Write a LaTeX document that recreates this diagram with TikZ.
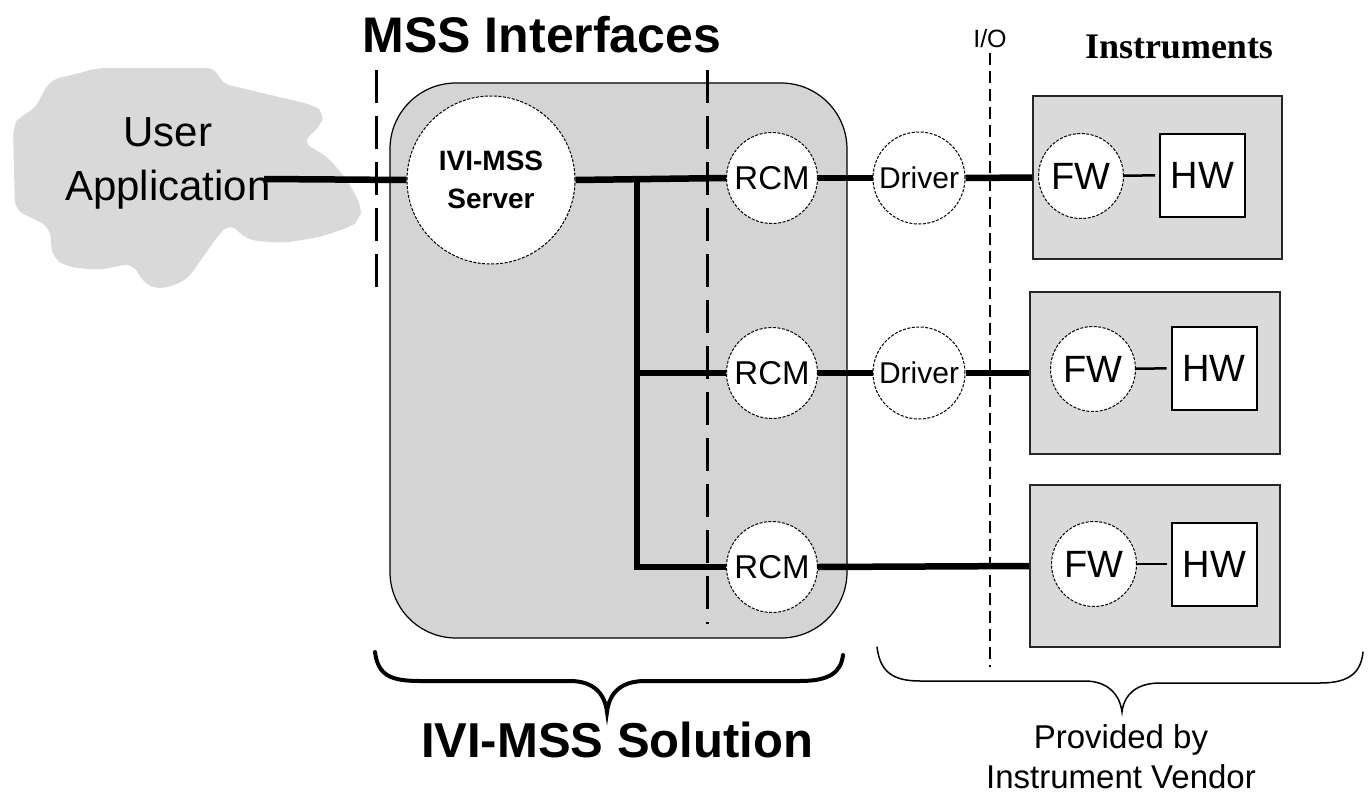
\documentclass[tikz,border=0pt]{standalone}
\usepackage{fontspec}
\setmainfont{Liberation Sans}
\newfontfamily\timesfont{Liberation Serif}
\definecolor{cloudgray}{RGB}{217,217,217}
\definecolor{rectgray}{RGB}{212,212,212}
\definecolor{instgray}{RGB}{218,218,218}
\tikzset{
  bus/.style={line width=6.5pt},
  dcirc/.style={circle, draw, dash pattern=on 3pt off 1.5pt, line width=1pt, fill=white, inner sep=0pt},
  bigdash/.style={line width=3pt, dash pattern=on 33pt off 13pt},
  iodash/.style={line width=1.3pt, dash pattern=on 12pt off 6pt},
  instbox/.style={draw=black!85, line width=2pt, fill=instgray, minimum width=250pt, minimum height=162pt, inner sep=0pt},
  hwbox/.style={draw, line width=2pt, fill=white, minimum width=85pt, minimum height=83pt, inner sep=0pt, font=\fontsize{38}{40}\selectfont},
  fwcirc/.style={dcirc, minimum size=85pt, font=\fontsize{38}{40}\selectfont},
  rcmcirc/.style={dcirc, minimum size=91pt, font=\fontsize{33}{36}\selectfont},
  drvcirc/.style={dcirc, minimum size=92pt, font=\fontsize{30}{34}\selectfont},
  link/.style={line width=2.5pt, shorten >=4pt},
  bracethick/.style={line width=4pt, line cap=round},
  bracethin/.style={line width=1.5pt, line cap=round},
}
\begin{document}
\begin{tikzpicture}[x=1pt,y=-1pt]
\useasboundingbox (0,0) rectangle (1369,793);
% cloud
\fill[cloudgray, rounded corners=10pt]
  (50,80) -- (80,73) -- (97,68) -- (217,68) -- (220,83) -- (313,105) -- (325,113)
  -- (320,127) -- (302,142) -- (328,157) -- (347,180) -- (362,207) -- (360,220)
  -- (350,227) -- (320,237) -- (283,243) -- (247,240) -- (230,223) -- (217,237)
  -- (187,280) -- (160,290) -- (143,283) -- (133,263) -- (100,270) -- (67,267)
  -- (52,257) -- (50,227) -- (40,222) -- (15,210) -- (13,127) -- (20,115)
  -- (33,112) -- cycle;
\node[align=center, font=\fontsize{42}{54}\selectfont] (user) at (168,163) {User\\Application};
% solution box
\draw[fill=rectgray, line width=1.2pt, rounded corners=66pt] (390,83) rectangle (847,638);
% dashed separators
\draw[bigdash] (376,70) -- (376,297);
\draw[bigdash] (707,70) -- (707,624);
\draw[iodash] (990,53) -- (990,667);
% titles
\node[anchor=base, font=\bfseries\fontsize{50}{60}\selectfont] (title) at (542,52) {MSS Interfaces};
\node[anchor=base, font=\fontsize{25}{30}\selectfont] (io) at (990,47) {I/O};
\node[anchor=base, font=\timesfont\bfseries\fontsize{36}{40}\selectfont] (instr) at (1179,58) {Instruments};
\node[anchor=base, font=\bfseries\fontsize{49}{58}\selectfont] (sol) at (617,757) {IVI-MSS Solution};
\node[anchor=base, font=\fontsize{33}{40}\selectfont] (prov1) at (1121,748) {Provided by};
\node[anchor=base, font=\fontsize{33}{40}\selectfont] (prov2) at (1121,788) {Instrument Vendor};
% server and RCMs
\node[dcirc, minimum size=168pt, align=center, font=\bfseries\fontsize{28}{38}\selectfont] (server) at (491,180) {IVI-MSS\\Server};
\node[rcmcirc] (rcm1) at (772,178) {RCM};
\node[rcmcirc] (rcm2) at (772,373) {RCM};
\node[rcmcirc] (rcm3) at (772,567) {RCM};
\node[drvcirc] (drv1) at (919,178) {Driver};
\node[drvcirc] (drv2) at (919,373) {Driver};
% instruments
\node[instbox, minimum width=249pt, minimum height=163pt] (inst1) at (1157.5,177.5) {};
\node[instbox] (inst2) at (1155,373) {};
\node[instbox] (inst3) at (1155,566) {};
\node[fwcirc] (fw1) at (1081,176) {FW};
\node[fwcirc] (fw2) at (1093,369) {FW};
\node[fwcirc] (fw3) at (1094,564) {FW};
\node[hwbox] (hw1) at (1202.5,175) {HW};
\node[hwbox] (hw2) at (1214,368) {HW};
\node[hwbox] (hw3) at (1214.5,564) {HW};
\draw[link] (fw1) -- (hw1);
\draw[link] (fw2) -- (hw2);
\draw[link] (fw3) -- (hw3);
% bus lines
\coordinate (ua) at (264,179);
\coordinate (j1) at (637,178);
\coordinate (j2) at (637,373);
\coordinate (j3) at (637,567);
\draw[bus] (ua) -- (server.west);
\draw[bus] (server.east) -- (rcm1.west);
\draw[bus] (j1) -- (j3) -- (rcm3.west);
\draw[bus] (j2) -- (rcm2.west);
\draw[bus] (rcm1.east) -- (drv1.west);
\draw[bus] (rcm2.east) -- (drv2.west);
\draw[bus] (drv1.east) -- (inst1.west);
\draw[bus] (drv2.east) -- (inst2.west);
\draw[bus] (rcm3.east) -- (inst3.west);
% braces
\draw[bracethick] (375,652) .. controls (378,675) and (390,681) .. (420,681) -- (570,681)
  .. controls (595,681) and (605,695) .. (607,712)
  .. controls (609,695) and (619,681) .. (645,681) -- (800,681)
  .. controls (830,681) and (841,672) .. (843,655);
\draw[bracethin] (877,647) .. controls (880,672) and (893,681) .. (920,681) -- (1085,681)
  .. controls (1108,681) and (1120,695) .. (1122,712)
  .. controls (1124,695) and (1136,683) .. (1160,683) -- (1320,683)
  .. controls (1350,683) and (1361,672) .. (1363,652);
\end{tikzpicture}
\end{document}
